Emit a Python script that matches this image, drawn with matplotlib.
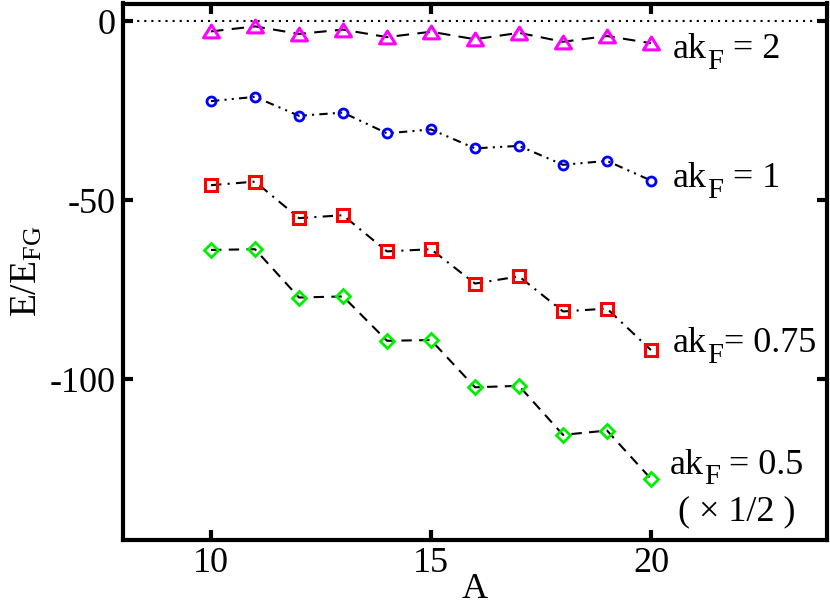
import matplotlib
matplotlib.use("Agg")
import matplotlib.pyplot as plt
from matplotlib.path import Path
import numpy as np

plt.rcParams['font.family'] = ['Liberation Serif', 'DejaVu Serif']
plt.rcParams['mathtext.fontset'] = 'custom'
plt.rcParams['mathtext.rm'] = 'Liberation Serif'
plt.rcParams['mathtext.it'] = 'Liberation Serif:italic'

A = [10, 11, 12, 13, 14, 15, 16, 17, 18, 19, 20]
ak2 = [-2.8, -1.4, -3.5, -2.3, -4.4, -2.9, -5.0, -3.2, -5.7, -4.1, -6.1]
ak1 = [-22.3, -21.1, -26.4, -25.5, -31.3, -30.2, -35.5, -34.8, -40.1, -39.0, -44.5]
ak075 = [-45.8, -44.8, -55.0, -54.2, -64.3, -63.7, -73.3, -71.3, -81.1, -80.3, -91.9]
ak05_half = [-63.9, -63.7, -77.2, -76.9, -89.3, -89.1, -102.3, -101.9, -115.6, -114.4, -127.9]

label_tail = [' = 2', ' = 1', '= 0.75', ' = 0.5']
label_x = [20.5, 20.5, 20.5, 20.43]
label_y = [-10.3, -46.4, -92.5, -126.5]
extra_label = '( \u00d7 1/2 )'

fig = plt.figure(figsize=(8.30, 6.07), dpi=100)
ax = fig.add_axes([123/830, (607-540)/607, (827-123)/830, (540-3.5)/607])

ax.axhline(0, color='black', lw=1.5, linestyle=(0, (1, 2.4)), zorder=1)

tri = Path([(-1, -0.8), (1, -0.8), (0, 0.8), (-1, -0.8)], closed=True)
lw = 1.5
ax.plot(A, ak2, color='black', lw=lw, linestyle=(0, (6, 4)), zorder=2)
ax.plot(A, ak2, linestyle='none', marker=tri, markersize=11.5, mfc='none',
        mec='#ff00ff', mew=2.2, zorder=3)

ax.plot(A, ak1, color='black', lw=lw, linestyle=(0, (4, 2.5, 1, 2.5, 1, 2.5)), zorder=2)
ax.plot(A, ak1, linestyle='none', marker='o', markersize=6.5, mfc='none',
        mec='#0000ff', mew=2.0, zorder=3)

ax.plot(A, ak075, color='black', lw=lw, linestyle=(0, (5, 3, 1, 3)), zorder=2)
ax.plot(A, ak075, linestyle='none', marker='s', markersize=8, mfc='none',
        mec='#ff0000', mew=2.2, zorder=3)

ax.plot(A, ak05_half, color='black', lw=lw, linestyle=(0, (5, 3.5)), zorder=2)
ax.plot(A, ak05_half, linestyle='none', marker='D', markersize=7.5, mfc='none',
        mec='#00ee00', mew=2.0, zorder=3)

fs = 26
for tail, x, y in zip(label_tail, label_x, label_y):
    t1 = ax.text(x, y, 'ak', fontsize=fs, ha='left', va='baseline')
    t2 = ax.annotate('F', xy=(1, 0), xycoords=t1, xytext=(0.5, -6),
                     textcoords='offset points', fontsize=fs * 0.8,
                     ha='left', va='bottom')
    ax.annotate(tail, xy=(1, 0), xycoords=(t2, t1), xytext=(0, 0),
                textcoords='offset points', fontsize=fs,
                ha='left', va='bottom')
ax.text(20.62, -139.6, extra_label, fontsize=fs, ha='left', va='baseline')

ax.set_xlim(8, 24)
ax.set_ylim(-145, 5)
ax.set_xticks([10, 15, 20])
ax.set_yticks([0, -50, -100])
ax.set_xticklabels(['10', '15', '20'])
ax.set_yticklabels(['0', '-50', '-100'])
ax.tick_params(direction='in', length=7, width=3, labelsize=26,
               top=True, right=True, pad=5)
for s in ax.spines.values():
    s.set_linewidth(3)

ax.set_xlabel('A', fontsize=26, labelpad=-5)
ax.set_ylabel(r'E/E$_{\mathrm{FG}}$', fontsize=27, labelpad=4)

fig.savefig('out.png', dpi=100)
